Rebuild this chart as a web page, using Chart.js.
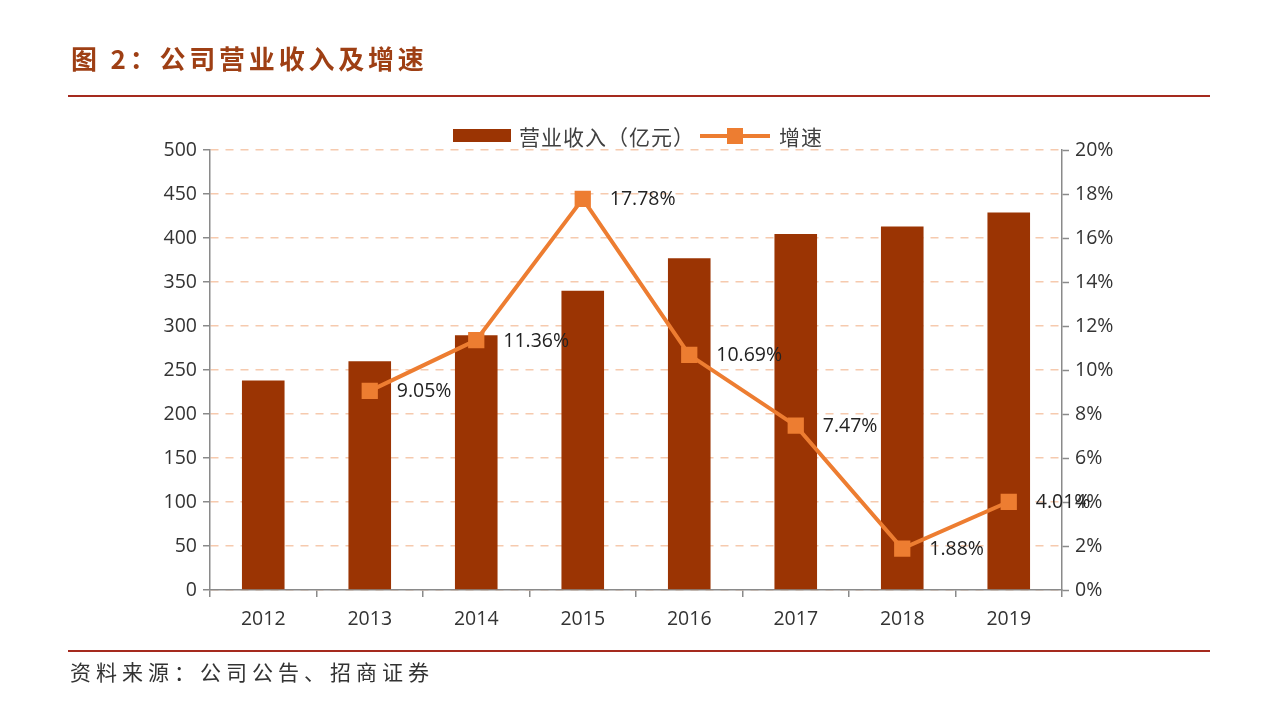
<!DOCTYPE html>
<html>
<head>
<meta charset="utf-8">
<script src="https://cdn.jsdelivr.net/npm/chart.js@4.4.1/dist/chart.umd.min.js"></script>
<style>
  html, body { margin:0; padding:0; background:#fff; }
  #wrap { position:relative; width:1264px; height:706px; overflow:hidden; }
  #c { position:absolute; left:0; top:0; }
  .title { position:absolute; left:71px; top:40px; font-family:"Noto Sans CJK SC", sans-serif; font-weight:700; font-size:26px; letter-spacing:3.8px; color:#9E3F14; line-height:36px; white-space:nowrap; }
  .rule { position:absolute; left:68px; width:1142px; height:2px; background:#A52A1E; }
  .source { position:absolute; left:70px; top:656px; font-family:"Noto Sans CJK SC", sans-serif; font-size:21px; letter-spacing:5px; color:#333; line-height:30px; white-space:nowrap; }
  .legend { position:absolute; top:122px; left:453px; height:28px; font-family:"Noto Sans CJK SC", sans-serif; font-size:21px; letter-spacing:1px; color:#404040; white-space:nowrap; }
  .legend span { position:absolute; top:0; line-height:28px; }
  .sw { position:absolute; }
</style>
</head>
<body>
<div id="wrap">
  <canvas id="c" width="1264" height="706"></canvas>
  <div class="title">图 2：公司营业收入及增速</div>
  <div class="rule" style="top:95px;"></div>
  <div class="legend">
    <div class="sw" style="left:0; top:7px; width:58px; height:13px; background:#9B3403;"></div>
    <span style="left:66px;">营业收入（亿元）</span>
    <div class="sw" style="left:247px; top:12px; width:70px; height:4px; background:#ED7D31;"></div>
    <div class="sw" style="left:274px; top:6px; width:16px; height:16px; background:#ED7D31;"></div>
    <span style="left:326px;">增速</span>
  </div>
  <div class="rule" style="top:650px;"></div>
  <div class="source">资料来源：公司公告、招商证券</div>
</div>
<script>
const years = ['2012','2013','2014','2015','2016','2017','2018','2019'];
const revenue = [238, 260, 289.5, 340, 377, 404.5, 413, 429];
const growth = [null, 9.05, 11.36, 17.78, 10.69, 7.47, 1.88, 4.01];
const revenueTicks = [0, 50, 100, 150, 200, 250, 300, 350, 400, 450, 500];
const growthTicks = [0, 2, 4, 6, 8, 10, 12, 14, 16, 18, 20];

const tickFont = { family: '"Open Sans", "Liberation Sans", sans-serif', size: 19.5 };

const pctLabels = {
  id: 'pctLabels',
  afterDatasetsDraw(chart) {
    const meta = chart.getDatasetMeta(0);
    const ctx = chart.ctx;
    ctx.save();
    ctx.font = '19.5px "Open Sans", "Liberation Sans", sans-serif';
    ctx.fillStyle = '#222';
    ctx.textBaseline = 'middle';
    ctx.textAlign = 'left';
    meta.data.forEach((pt, i) => {
      const v = growth[i];
      if (v == null) return;
      ctx.fillText(v.toFixed(2) + '%', pt.x + 27, pt.y + 1);
    });
    ctx.restore();
  }
};

new Chart(document.getElementById('c'), {
  data: {
    labels: years,
    datasets: [
      {
        type: 'line',
        label: '增速',
        data: growth,
        yAxisID: 'y1',
        borderColor: '#ED7D31',
        backgroundColor: '#ED7D31',
        borderWidth: 4,
        pointStyle: 'rect',
        pointRadius: 11.5,
        pointHoverRadius: 11.5,
        pointBackgroundColor: '#ED7D31',
        pointBorderWidth: 0,
        tension: 0,
        spanGaps: false,
        order: 1
      },
      {
        type: 'bar',
        label: '营业收入（亿元）',
        data: revenue,
        yAxisID: 'y',
        backgroundColor: '#9B3403',
        borderWidth: 0,
        categoryPercentage: 1,
        barPercentage: 0.4,
        order: 2
      }
    ]
  },
  options: {
    responsive: false,
    animation: false,
    events: [],
    layout: { padding: { left: 140, right: 122, top: 150, bottom: 0 } },
    plugins: { legend: { display: false }, tooltip: { enabled: false } },
    scales: {
      x: {
        type: 'category',
        offset: true,
        grid: { display: true, offset: true, drawOnChartArea: false, drawTicks: true, tickLength: 7, tickColor: '#8a8a8a', lineWidth: 1.5 },
        border: { display: true, color: '#8a8a8a', width: 1.5 },
        ticks: { font: tickFont, color: '#333', padding: 11, maxRotation: 0 },
        afterFit(s) { s.height = 116; }
      },
      y: {
        position: 'left',
        min: 0, max: 500,
        afterBuildTicks(s) { s.ticks = revenueTicks.map(v => ({ value: v })); },
        grid: { color: '#F6CAAE', lineWidth: 1.5, drawTicks: true, tickLength: 7, tickColor: '#8a8a8a', tickWidth: 1.5, tickBorderDash: [] },
        border: { display: true, color: '#8a8a8a', width: 1.5, dash: [8, 7] },
        ticks: { font: tickFont, color: '#333', padding: 6 },
        afterFit(s) { s.width = 70; }
      },
      y1: {
        position: 'right',
        min: 0, max: 20,
        afterBuildTicks(s) { s.ticks = growthTicks.map(v => ({ value: v })); },
        grid: { drawOnChartArea: false, drawTicks: true, tickLength: 7, tickColor: '#8a8a8a', tickWidth: 1.5 },
        border: { display: true, color: '#8a8a8a', width: 1.5 },
        ticks: { font: tickFont, color: '#333', padding: 6, callback: v => v + '%' },
        afterFit(s) { s.width = 80; }
      }
    }
  },
  plugins: [pctLabels]
});
</script>
</body>
</html>
